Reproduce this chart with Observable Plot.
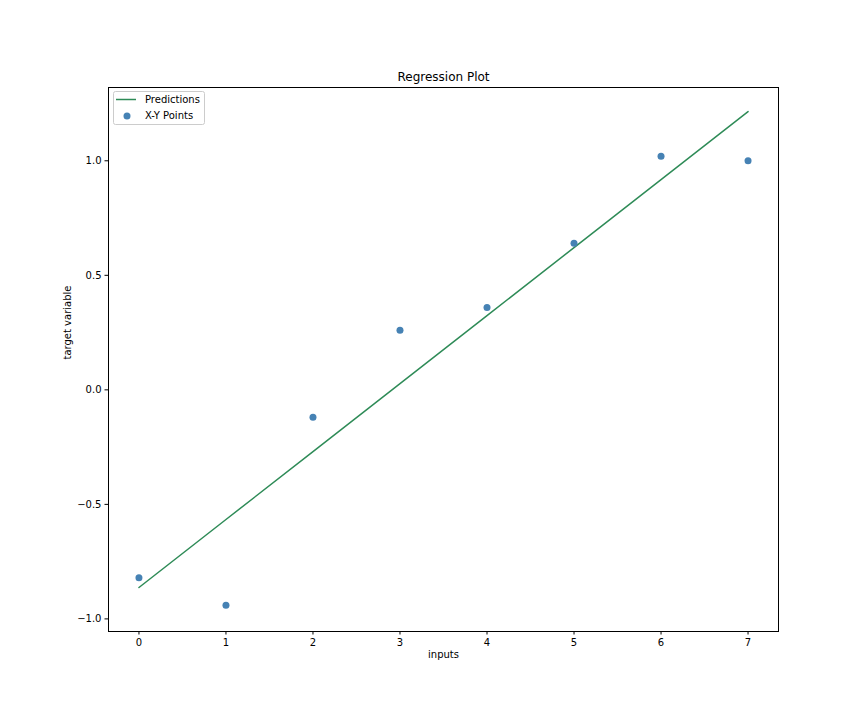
<!DOCTYPE html>
<html>
<head>
<meta charset="utf-8">
<script src="https://cdn.jsdelivr.net/npm/d3@7"></script>
<script src="https://cdn.jsdelivr.net/npm/@observablehq/plot@0.6"></script>
<style>
  html, body { margin: 0; padding: 0; background: #fff; }
  #chart svg { display: block; }
</style>
</head>
<body>
<div id="chart"></div>
<script>
const inputs = [0, 1, 2, 3, 4, 5, 6, 7];
const targets = [-0.82, -0.94, -0.12, 0.26, 0.36, 0.64, 1.02, 1.00];
const predictions = [-0.863, -0.566, -0.270, 0.027, 0.324, 0.621, 0.918, 1.215];
const xTicks = [0, 1, 2, 3, 4, 5, 6, 7];
const yTicks = [-1.0, -0.5, 0.0, 0.5, 1.0];

const points = inputs.map((x, i) => ({x, y: targets[i]}));
const preds = inputs.map((x, i) => ({x, y: predictions[i]}));

const FONT = "DejaVu Sans";
const fmt = d => d.toFixed(1).replace("-", "\u2212");

const chart = Plot.plot({
  width: 864,
  height: 720,
  marginLeft: 108,
  marginRight: 86,
  marginTop: 87,
  marginBottom: 89,
  style: {fontFamily: FONT, fontSize: "10px", color: "#000", background: "#fff"},
  x: {domain: [-0.35, 7.35], ticks: xTicks, tickFormat: d => String(d)},
  y: {domain: [-1.055, 1.32], ticks: yTicks, tickFormat: fmt},
  marks: [
    Plot.axisX({ticks: xTicks, tickSize: 3.5, tickPadding: 3.5, label: null, fontSize: 10, tickFormat: d => String(d)}),
    Plot.axisY({ticks: yTicks, tickSize: 3.5, tickPadding: 3.5, label: null, fontSize: 10, tickFormat: fmt}),
    Plot.line(preds, {x: "x", y: "y", stroke: "#2e8b57", strokeWidth: 1.5}),
    Plot.dot(points, {x: "x", y: "y", r: 3.5, fill: "#4682b4", stroke: "none"}),
    Plot.frame({stroke: "#000", strokeWidth: 1}),
    Plot.text(["Regression Plot"], {text: d => d, frameAnchor: "top", lineAnchor: "bottom", dy: -7, fontSize: 12, fill: "#000"}),
    Plot.text(["inputs"], {text: d => d, frameAnchor: "bottom", lineAnchor: "bottom", dy: 26, fontSize: 10, fill: "#000"}),
    Plot.text(["target variable"], {text: d => d, frameAnchor: "left", lineAnchor: "middle", rotate: -90, dx: -41, fontSize: 10, fill: "#000"})
  ]
});

document.getElementById("chart").appendChild(chart);

// Legend box (upper left, inside the axes)
const svg = d3.select(chart);
const lg = svg.append("g").attr("font-family", FONT).attr("font-size", 10).attr("text-anchor", "start");
lg.append("rect").attr("x", 113.5).attr("y", 91.5).attr("width", 91).attr("height", 33)
  .attr("rx", 2).attr("fill", "#fff").attr("fill-opacity", 0.8).attr("stroke", "#ccc");
lg.append("line").attr("x1", 116).attr("x2", 136).attr("y1", 99.5).attr("y2", 99.5)
  .attr("stroke", "#2e8b57").attr("stroke-width", 1.5);
lg.append("text").attr("x", 145).attr("y", 99.5).attr("dy", "0.35em").attr("fill", "#000").text("Predictions");
lg.append("circle").attr("cx", 127).attr("cy", 116).attr("r", 3.5).attr("fill", "#4682b4");
lg.append("text").attr("x", 145).attr("y", 115.5).attr("dy", "0.35em").attr("fill", "#000").text("X-Y Points");
</script>
</body>
</html>
